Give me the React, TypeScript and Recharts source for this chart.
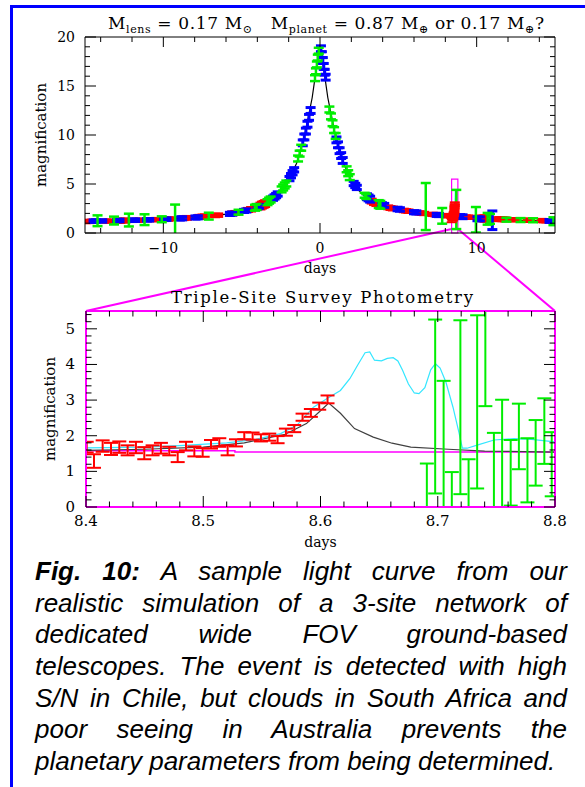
import React from "react";
import { ComposedChart, Line, Scatter, XAxis, YAxis, ErrorBar, ReferenceArea, Label } from "recharts";

// ---------- data ----------

// top panel: model light curve (days, magnification)
const curveDays = [-15, -14, -13, -12, -11, -10, -9, -8, -7, -6, -5, -4, -3.5, -3, -2.5, -2, -1.5, -1.25, -1, -0.75, -0.5, -0.25, 0, 0.25, 0.5, 0.75, 1, 1.25, 1.5, 2, 2.5, 3, 3.5, 4, 5, 6, 7, 8, 9, 10, 11, 12, 13, 14, 15];
const curveMag = [1.2, 1.23, 1.26, 1.3, 1.34, 1.4, 1.48, 1.58, 1.73, 1.93, 2.2, 2.65, 3.0, 3.55, 4.3, 5.4, 7.1, 8.3, 9.8, 11.8, 13.8, 16.6, 19.0, 16.6, 13.8, 11.8, 9.8, 8.3, 7.1, 5.4, 4.3, 3.55, 3.0, 2.65, 2.2, 1.93, 1.73, 1.58, 1.48, 1.4, 1.34, 1.3, 1.26, 1.23, 1.2];

// top panel photometry [day, magnification, error]
const redTop: [number, number, number][] = [
  [-14.95, 1.17, 0.12], [-14.75, 1.18, 0.12], [-14.55, 1.19, 0.12],
  [-13.65, 1.21, 0.12], [-13.45, 1.22, 0.12],
  [-12.75, 1.25, 0.16], [-12.55, 1.27, 0.16], [-12.4, 1.28, 0.14],
  [-11.7, 1.3, 0.12], [-11.5, 1.31, 0.12],
  [-10.65, 1.36, 0.12], [-10.45, 1.37, 0.12],
  [-9.7, 1.42, 0.12], [-9.5, 1.44, 0.12],
  [-8.7, 1.52, 0.15], [-8.5, 1.54, 0.15],
  [-7.7, 1.64, 0.16], [-7.5, 1.67, 0.16], [-7.35, 1.69, 0.16],
  [-6.7, 1.79, 0.13], [-6.5, 1.82, 0.13],
  [-5.6, 2.0, 0.15], [-5.4, 2.05, 0.15],
  [-4.6, 2.35, 0.16], [-4.4, 2.42, 0.18],
  [-3.8, 2.75, 0.3], [-3.7, 2.85, 0.3], [-3.6, 2.92, 0.3], [-3.5, 3.0, 0.3],
  [3.3, 3.25, 0.2], [3.45, 3.1, 0.2], [3.6, 2.98, 0.18],
  [4.35, 2.62, 0.15], [4.5, 2.55, 0.15], [4.65, 2.5, 0.15],
  [5.35, 2.3, 0.13], [5.5, 2.26, 0.13], [5.65, 2.22, 0.13],
  [6.35, 2.05, 0.12], [6.5, 2.02, 0.12], [6.65, 1.99, 0.12],
  [7.2, 1.9, 0.12], [7.35, 1.88, 0.12],
  [8.0, 1.78, 0.12], [8.15, 1.76, 0.12],
  [9.3, 1.63, 0.12], [9.45, 1.61, 0.12], [9.6, 1.6, 0.12],
  [10.35, 1.5, 0.25], [10.5, 1.48, 0.28], [10.65, 1.46, 0.25],
  [11.35, 1.42, 0.15], [11.5, 1.41, 0.15], [11.65, 1.4, 0.15], [11.8, 1.39, 0.15],
  [12.3, 1.36, 0.12], [12.45, 1.35, 0.12],
  [13.25, 1.31, 0.12], [13.4, 1.3, 0.12],
  [14.15, 1.27, 0.12], [14.3, 1.26, 0.12], [14.45, 1.25, 0.12],
];

const blueTop: [number, number, number][] = [
  [-14.45, 1.21, 0.13], [-14.3, 1.22, 0.13], [-13.9, 1.23, 0.13],
  [-12.95, 1.27, 0.13], [-12.8, 1.28, 0.13],
  [-11.95, 1.3, 0.13], [-11.8, 1.31, 0.13],
  [-11.05, 1.34, 0.13], [-10.9, 1.35, 0.13],
  [-9.95, 1.4, 0.13], [-9.8, 1.41, 0.13],
  [-8.95, 1.48, 0.16], [-8.8, 1.5, 0.16],
  [-7.95, 1.58, 0.16], [-7.8, 1.6, 0.16],
  [-5.75, 1.95, 0.16], [-5.6, 1.98, 0.16],
  [-4.85, 2.25, 0.16], [-4.7, 2.3, 0.16],
  [-4.0, 2.65, 0.2], [-3.9, 2.72, 0.2],
  [-3.0, 3.55, 0.22], [-2.9, 3.68, 0.22], [-2.8, 3.82, 0.22], [-2.7, 3.98, 0.22],
  [-1.95, 5.55, 0.22], [-1.85, 5.85, 0.22], [-1.75, 6.15, 0.22], [-1.65, 6.45, 0.22],
  [-1.1, 9.2, 0.3], [-1.0, 9.8, 0.3], [-0.9, 10.4, 0.3], [-0.8, 11.1, 0.3], [-0.7, 11.8, 0.3], [-0.6, 12.5, 0.3],
  [0.06, 18.8, 0.3], [0.12, 18.2, 0.3], [0.18, 17.6, 0.3], [0.24, 17.0, 0.3], [0.3, 16.4, 0.3], [0.36, 15.9, 0.3],
  [1.05, 9.5, 0.3], [1.15, 9.0, 0.3], [1.25, 8.4, 0.3], [1.35, 7.9, 0.3], [1.45, 7.4, 0.3],
  [2.15, 5.05, 0.22], [2.25, 4.85, 0.22], [2.35, 4.65, 0.22],
  [3.0, 3.7, 0.3], [3.1, 3.58, 0.3], [3.2, 3.45, 0.3],
  [3.95, 2.9, 0.2], [4.1, 2.82, 0.2],
  [4.95, 2.45, 0.18], [5.1, 2.4, 0.18],
  [6.0, 2.12, 0.16], [6.15, 2.1, 0.16],
  [7.45, 1.85, 0.16], [7.6, 1.83, 0.16],
  [8.95, 1.68, 0.2], [9.1, 1.66, 0.2],
  [10.05, 1.45, 0.2], [10.2, 1.44, 0.2],
  [11.0, 1.3, 0.95],
  [14.65, 1.23, 0.15], [14.85, 1.22, 0.15],
];

const greenTop: [number, number, number][] = [
  [-14.2, 1.25, 0.55], [-13.15, 1.27, 0.4], [-12.2, 1.32, 0.65], [-11.2, 1.36, 0.55],
  [-10.1, 1.4, 0.3], [-9.25, 1.35, 1.55], [-7.1, 1.72, 0.35], [-5.2, 2.12, 0.25],
  [-4.15, 2.58, 0.3], [-4.05, 2.65, 0.3],
  [-3.35, 3.15, 0.3], [-3.25, 3.3, 0.3], [-3.15, 3.42, 0.3],
  [-2.45, 4.45, 0.3], [-2.35, 4.65, 0.3], [-2.25, 4.85, 0.3], [-2.15, 5.05, 0.3],
  [-1.4, 7.6, 0.3], [-1.3, 8.1, 0.3], [-1.2, 8.7, 0.3],
  [-0.32, 15.8, 0.3], [-0.26, 16.5, 0.3], [-0.2, 17.2, 0.3], [-0.14, 17.9, 0.3], [-0.08, 18.6, 0.3],
  [0.6, 12.6, 0.3], [0.7, 11.9, 0.3], [0.8, 11.2, 0.3], [0.9, 10.5, 0.3], [1.0, 9.9, 0.3],
  [1.7, 6.5, 0.3], [1.8, 6.1, 0.3], [1.9, 5.7, 0.3],
  [2.85, 3.85, 0.25], [2.95, 3.72, 0.25],
  [3.75, 2.95, 0.4], [3.85, 2.88, 0.4],
  [6.75, 2.7, 2.4], [7.8, 1.75, 0.8], [8.7, 2.4, 2.0], [9.95, 1.35, 1.3],
  [10.7, 1.45, 0.6], [10.85, 1.44, 0.5],
  [11.9, 1.36, 0.2], [12.8, 1.32, 0.2], [13.6, 1.3, 0.2], [14.9, 1.2, 0.4],
];

// bottom panel: models
const noPlanetDays = [8.4, 8.45, 8.5, 8.535, 8.57, 8.588, 8.6, 8.607, 8.617, 8.629, 8.645, 8.661, 8.677, 8.709, 8.74, 8.8];
const noPlanetMag = [1.59, 1.62, 1.68, 1.8, 2.04, 2.34, 2.7, 2.92, 2.63, 2.2, 1.96, 1.79, 1.68, 1.62, 1.57, 1.54];

const planetDays = [8.4, 8.45, 8.48, 8.52, 8.545, 8.566, 8.58, 8.594, 8.606, 8.617, 8.625, 8.632, 8.638, 8.642, 8.646, 8.652, 8.657, 8.662, 8.666, 8.67, 8.675, 8.68, 8.684, 8.689, 8.694, 8.698, 8.702, 8.707, 8.713, 8.718, 8.721, 8.725, 8.735, 8.748, 8.765, 8.78, 8.8];
const planetMag = [1.66, 1.68, 1.72, 1.8, 1.9, 2.06, 2.3, 2.8, 3.05, 3.27, 3.6, 4.0, 4.33, 4.35, 4.12, 4.1, 4.17, 4.19, 4.1, 3.84, 3.45, 3.2, 3.18, 3.35, 3.85, 4.02, 3.9, 3.5, 2.8, 2.1, 1.65, 1.65, 1.75, 1.88, 1.92, 1.9, 1.83];

const baseDays = [8.4, 8.527, 8.527, 8.8];
const baseMag = [1.58, 1.58, 1.54, 1.54];

// bottom panel photometry
const chileDays = [8.4006, 8.4068, 8.4142, 8.4213, 8.4284, 8.4355, 8.4426, 8.4497, 8.4568, 8.4639, 8.471, 8.4782, 8.4853, 8.4924, 8.4995, 8.5066, 8.5137, 8.5208, 8.5279, 8.535, 8.5421, 8.5492, 8.5563, 8.5634, 8.5705, 8.5776, 8.5847, 8.5918, 8.5989, 8.606];
const chileMag = [1.68, 1.29, 1.71, 1.63, 1.68, 1.59, 1.67, 1.51, 1.59, 1.65, 1.57, 1.4, 1.71, 1.56, 1.53, 1.76, 1.81, 1.59, 1.8, 2.0, 1.99, 1.94, 1.96, 1.89, 2.1, 2.2, 2.52, 2.64, 2.83, 3.02];
const chileErr = [0.15, 0.19, 0.16, 0.17, 0.16, 0.14, 0.16, 0.17, 0.14, 0.15, 0.12, 0.14, 0.12, 0.14, 0.12, 0.12, 0.12, 0.14, 0.1, 0.1, 0.1, 0.1, 0.1, 0.1, 0.1, 0.1, 0.1, 0.11, 0.1, 0.11];

const saDays = [8.6907, 8.6978, 8.705, 8.712, 8.7193, 8.7263, 8.7336, 8.7406, 8.7479, 8.7549, 8.7622, 8.7692, 8.7765, 8.7835, 8.7909, 8.7972];
const saMag = [0.3, 2.82, 1.1, 0.06, 2.8, 0.42, 2.95, 5.27, -0.36, 0.57, 0.96, 1.98, 1.03, 1.52, 2.13, 1.2];
const saErr = [0.92, 2.44, 2.44, 0.92, 2.44, 0.92, 2.43, 2.44, 2.44, 2.44, 0.92, 0.92, 0.9, 0.92, 0.92, 0.9];

// ticks
const topXTicks = [-14, -12, -10, -8, -6, -4, -2, 0, 2, 4, 6, 8, 10, 12, 14];
const topYTicks = [0, 1, 2, 3, 4, 5, 6, 7, 8, 9, 10, 11, 12, 13, 14, 15, 16, 17, 18, 19, 20];
const lowXTicks = [8.4, 8.42, 8.44, 8.46, 8.48, 8.5, 8.52, 8.54, 8.56, 8.58, 8.6, 8.62, 8.64, 8.66, 8.68, 8.7, 8.72, 8.74, 8.76, 8.78, 8.8];
const lowYTicks = [0, 0.2, 0.4, 0.6, 0.8, 1, 1.2, 1.4, 1.6, 1.8, 2, 2.2, 2.4, 2.6, 2.8, 3, 3.2, 3.4, 3.6, 3.8, 4, 4.2, 4.4, 4.6, 4.8, 5, 5.2, 5.4];

const captionLines = [
  "A sample light curve from our",
  "realistic simulation of a 3-site network of",
  "dedicated wide FOV ground-based",
  "telescopes. The event is detected with high",
  "S/N in Chile, but clouds in South Africa and",
  "poor seeing in Australia prevents the",
  "planetary parameters from being determined.",
];

// ---------- helpers ----------
const toPts = (days: number[], mags: number[], errs?: number[]) =>
  days.map((t, i) => ({ t, a: mags[i], e: errs ? errs[i] : 0 }));
const fromTriples = (rows: [number, number, number][]) => rows.map(([t, a, e]) => ({ t, a, e }));

const topCurve = toPts(curveDays, curveMag);
const noPlanet = toPts(noPlanetDays, noPlanetMag);
const planet = toPts(planetDays, planetMag);
const baseline = toPts(baseDays, baseMag);
const chile = toPts(chileDays, chileMag, chileErr);
const southAfrica = toPts(saDays, saMag, saErr);

const SERIF = '"DejaVu Serif", serif';
const MAGENTA = "#ff00ff";

// plot frames in page pixels
const TOP = { left: 85, right: 555, top: 37, bottom: 233 };
const LOW = { left: 86, right: 555, top: 311, bottom: 507 };
const LOW_Y0 = 280;
const TOP_DOMAIN = [-15, 15];

const isMult = (v: number, step: number) => Math.abs(v / step - Math.round(v / step)) < 1e-6;

type Side = "bottom" | "top" | "left" | "right";
const makeTick =
  (side: Side, major: (v: number) => boolean, label: ((v: number) => string) | null, bigLen: number, smallLen: number, fontSize = 14, gap = 14) =>
  (props: any) => {
    const { x, y, payload } = props;
    const v = Number(payload.value);
    const big = major(v);
    const len = big ? bigLen : smallLen;
    const x2 = side === "left" ? x + len : side === "right" ? x - len : x;
    const y2 = side === "bottom" ? y - len : side === "top" ? y + len : y;
    let txt = null;
    if (big && label && side === "bottom")
      txt = (
        <text x={x} y={y + gap} textAnchor="middle" dominantBaseline="central" fontSize={fontSize} fontFamily={SERIF} fill="#000">
          {label(v)}
        </text>
      );
    if (big && label && side === "left")
      txt = (
        <text x={x - gap} y={y} textAnchor="end" dominantBaseline="central" fontSize={fontSize} fontFamily={SERIF} fill="#000">
          {label(v)}
        </text>
      );
    return (
      <g>
        <line x1={x} y1={y} x2={x2} y2={y2} stroke="#000" strokeWidth={1} />
        {txt}
      </g>
    );
  };

const topMajX = (v: number) => isMult(v, 10);
const topMajY = (v: number) => isMult(v, 5);
const lowMajX = (v: number) => isMult(v, 0.1);
const lowMajY = (v: number) => isMult(v, 1);
const fmtDay = (v: number) => (v < 0 ? "\u2212" + Math.abs(v) : String(v));

const noShape = () => <g />;

const photometry = (data: any[], color: string, capWidth: number, sw: number, key: string) => (
  <Scatter key={key} data={data} dataKey="a" shape={noShape} isAnimationActive={false}>
    <ErrorBar dataKey="e" direction="y" width={capWidth} stroke={color} strokeWidth={sw} isAnimationActive={false} />
  </Scatter>
);

function TopPanel() {
  return (
    <ComposedChart width={585} height={290} margin={{ top: TOP.top - 10, right: 585 - TOP.right - 10, bottom: 290 - TOP.bottom - 45, left: TOP.left - 80 }}>
      <XAxis type="number" dataKey="t" domain={TOP_DOMAIN} allowDataOverflow ticks={topXTicks} interval={0} height={45} tickSize={0} tickMargin={0} tickLine={false} axisLine={{ stroke: "#000" }} tick={makeTick("bottom", topMajX, fmtDay, 10, 5, 14, 15)}>
        <Label value="days" position="insideBottom" offset={5} style={{ fontFamily: SERIF, fontSize: 14, fill: "#000" }} />
      </XAxis>
      <XAxis xAxisId="top" orientation="top" type="number" dataKey="t" domain={TOP_DOMAIN} allowDataOverflow ticks={topXTicks} interval={0} height={10} tickSize={0} tickMargin={0} tickLine={false} axisLine={{ stroke: "#000" }} tick={makeTick("top", topMajX, null, 10, 5)} />
      <YAxis type="number" dataKey="a" domain={[0, 20]} allowDataOverflow ticks={topYTicks} interval={0} width={80} tickSize={0} tickMargin={0} tickLine={false} axisLine={{ stroke: "#000" }} tick={makeTick("left", topMajY, (v) => String(v), 11, 5, 14, 10)}>
        <Label value="magnification" angle={-90} position="insideLeft" offset={36} style={{ fontFamily: SERIF, fontSize: 15, fill: "#000", textAnchor: "middle" }} />
      </YAxis>
      <YAxis yAxisId="right" orientation="right" type="number" dataKey="a" domain={[0, 20]} allowDataOverflow ticks={topYTicks} interval={0} width={10} tickSize={0} tickMargin={0} tickLine={false} axisLine={{ stroke: "#000" }} tick={makeTick("right", topMajY, null, 11, 5)} />

      <Line data={topCurve} dataKey="a" stroke="#000" strokeWidth={1.2} dot={false} isAnimationActive={false} />
      <Line data={planet} dataKey="a" stroke="#00e8ff" strokeWidth={1} dot={false} isAnimationActive={false} />
      {photometry(fromTriples(redTop), "#ff0000", 5, 3, "r")}
      {photometry(fromTriples(blueTop), "#0000ff", 5, 3, "b")}
      {photometry(fromTriples(greenTop), "#00ee00", 5, 2.5, "g")}
      {photometry(chile, "#ff0000", 5, 2, "rc")}
      <ReferenceArea x1={8.4} x2={8.8} y1={0} y2={5.5} stroke={MAGENTA} strokeWidth={1.2} fill="none" fillOpacity={0} ifOverflow="visible" />
    </ComposedChart>
  );
}

function LowPanel() {
  const frame = { stroke: MAGENTA, strokeWidth: 2 };
  return (
    <ComposedChart width={585} height={280} margin={{ top: LOW.top - LOW_Y0 - 10, right: 585 - LOW.right - 10, bottom: 280 - (LOW.bottom - LOW_Y0) - 45, left: LOW.left - 81 }}>
      <XAxis type="number" dataKey="t" domain={[8.4, 8.8]} allowDataOverflow ticks={lowXTicks} interval={0} height={45} tickSize={0} tickMargin={0} tickLine={false} axisLine={frame} tick={makeTick("bottom", lowMajX, (v) => v.toFixed(1), 11, 5.5, 15, 14)}>
        <Label value="days" position="insideBottom" offset={5} style={{ fontFamily: SERIF, fontSize: 14, fill: "#000" }} />
      </XAxis>
      <XAxis xAxisId="top" orientation="top" type="number" dataKey="t" domain={[8.4, 8.8]} allowDataOverflow ticks={lowXTicks} interval={0} height={10} tickSize={0} tickMargin={0} tickLine={false} axisLine={frame} tick={makeTick("top", lowMajX, null, 11, 5.5)} />
      <YAxis type="number" dataKey="a" domain={[0, 5.5]} allowDataOverflow ticks={lowYTicks} interval={0} width={81} tickSize={0} tickMargin={0} tickLine={false} axisLine={frame} tick={makeTick("left", lowMajY, (v) => String(Math.round(v)), 11, 5.5, 15, 11)}>
        <Label value="magnification" angle={-90} position="insideLeft" offset={45} style={{ fontFamily: SERIF, fontSize: 15, fill: "#000", textAnchor: "middle" }} />
      </YAxis>
      <YAxis yAxisId="right" orientation="right" type="number" dataKey="a" domain={[0, 5.5]} allowDataOverflow ticks={lowYTicks} interval={0} width={10} tickSize={0} tickMargin={0} tickLine={false} axisLine={frame} tick={makeTick("right", lowMajY, null, 11, 5.5)} />

      <Line data={baseline} dataKey="a" stroke={MAGENTA} strokeWidth={1.5} dot={false} isAnimationActive={false} />
      <Line data={noPlanet} dataKey="a" stroke="#404040" strokeWidth={1.2} dot={false} isAnimationActive={false} />
      <Line data={planet} dataKey="a" stroke="#33e6ff" strokeWidth={1.2} dot={false} isAnimationActive={false} />
      {photometry(chile, "#ff0000", 7, 2, "rc")}
      {photometry(southAfrica, "#00ee00", 7, 2, "gs")}
    </ComposedChart>
  );
}

const clipCss = `
.topPanel [class*="recharts-errorBar"] { clip-path: url(#topPlotClip); }
.lowPanel [class*="recharts-errorBar"] { clip-path: url(#lowPlotClip); }
`;

export default function App() {
  const tx = (d: number) => TOP.left + ((d - TOP_DOMAIN[0]) / (TOP_DOMAIN[1] - TOP_DOMAIN[0])) * (TOP.right - TOP.left);
  const sub = 11;
  return (
    <div style={{ position: "absolute", left: 0, top: 0, width: 585, height: 787, background: "#fff", overflow: "hidden" }}>
      <style>{clipCss}</style>
      <div style={{ position: "absolute", left: 10, top: 5, width: 600, height: 800, borderTop: "3px solid #0000ff", borderLeft: "3px solid #0000ff" }} />
      <svg width={585} height={787} style={{ position: "absolute", left: 0, top: 0 }}>
        <defs>
          <clipPath id="topPlotClip" clipPathUnits="userSpaceOnUse">
            <rect x={TOP.left} y={TOP.top} width={TOP.right - TOP.left} height={TOP.bottom - TOP.top} />
          </clipPath>
          <clipPath id="lowPlotClip" clipPathUnits="userSpaceOnUse">
            <rect x={LOW.left} y={LOW.top - LOW_Y0} width={LOW.right - LOW.left} height={LOW.bottom - LOW.top} />
          </clipPath>
        </defs>
        <line x1={tx(8.4)} y1={TOP.bottom - 4} x2={LOW.left} y2={LOW.top} stroke={MAGENTA} strokeWidth={2} />
        <line x1={tx(8.8)} y1={TOP.bottom - 4} x2={LOW.right} y2={LOW.top} stroke={MAGENTA} strokeWidth={2} />
        <text x={326} y={29} textAnchor="middle" fontFamily={SERIF} fontSize={17} style={{ whiteSpace: "pre" }} textLength={436} lengthAdjust="spacing">
          M<tspan fontSize={sub} dy={4}>lens</tspan>
          <tspan dy={-4}> = 0.17 M</tspan>
          <tspan fontSize={sub} dy={4}>⊙</tspan>
          <tspan dy={-4}>   M</tspan>
          <tspan fontSize={sub} dy={4}>planet</tspan>
          <tspan dy={-4}> = 0.87 M</tspan>
          <tspan fontSize={sub} dy={4}>⊕</tspan>
          <tspan dy={-4}> or 0.17 M</tspan>
          <tspan fontSize={sub} dy={4}>⊕</tspan>
          <tspan dy={-4}>?</tspan>
        </text>
        <text x={322} y={303} textAnchor="middle" fontFamily={SERIF} fontSize={16.5} textLength={302} lengthAdjust="spacing">
          Triple-Site Survey Photometry
        </text>
      </svg>
      <div className="topPanel" style={{ position: "absolute", left: 0, top: 0 }}>
        <TopPanel />
      </div>
      <div className="lowPanel" style={{ position: "absolute", left: 0, top: LOW_Y0 }}>
        <LowPanel />
      </div>
      <div style={{ position: "absolute", left: 35, top: 556, width: 532, fontFamily: '"Liberation Sans", Arial, sans-serif', fontStyle: "italic", fontSize: 26, lineHeight: "31.67px", color: "#000" }}>
        {captionLines.map((line, i) => (
          <div key={i} style={{ textAlign: "justify", textAlignLast: i < captionLines.length - 1 ? "justify" : "left", whiteSpace: "nowrap" }}>
            {i === 0 ? <b>Fig. 10: </b> : null}
            {line}
          </div>
        ))}
      </div>
    </div>
  );
}
